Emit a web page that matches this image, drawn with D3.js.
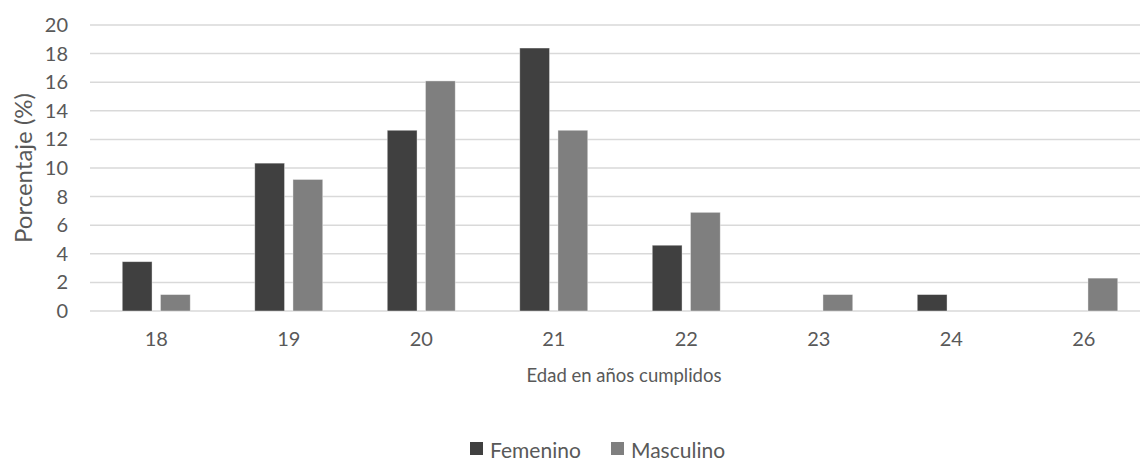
<!DOCTYPE html>
<html>
<head>
<meta charset="utf-8">
<script src="https://cdn.jsdelivr.net/npm/d3@7"></script>
<style>
  html, body { margin: 0; padding: 0; background: #fff; }
  svg { display: block; font-family: Lato, "Open Sans", sans-serif; }
</style>
</head>
<body>
<svg id="chart" width="1140" height="463"></svg>
<script>
// Age groups (years completed) and share of respondents by sex
const ages = ["18", "19", "20", "21", "22", "23", "24", "26"];
const femenino = [3.45, 10.34, 12.64, 18.39, 4.60, 0, 1.15, 0];
const masculino = [1.15, 9.20, 16.09, 12.64, 6.90, 1.15, 0, 2.30];
const seriesNames = ["Femenino", "Masculino"];
const seriesColors = ["#404040", "#7f7f7f"];
const yTicks = [0, 2, 4, 6, 8, 10, 12, 14, 16, 18, 20];

const svg = d3.select("#chart");
const plot = { left: 90, right: 1150, top: 25, bottom: 311 };

const x = d3.scaleBand().domain(ages).range([plot.left, plot.right]).paddingInner(0).paddingOuter(0);
const y = d3.scaleLinear().domain([0, 20]).range([plot.bottom, plot.top]);
const inner = d3.scaleBand().domain(seriesNames).range([x.bandwidth() / 2 - 34, x.bandwidth() / 2 + 34]).paddingInner(0.22);

// Horizontal gridlines
svg.append("g")
  .selectAll("line")
  .data(yTicks)
  .join("line")
  .attr("x1", plot.left).attr("x2", plot.right)
  .attr("y1", d => y(d)).attr("y2", d => y(d))
  .attr("stroke", "#d9d9d9").attr("stroke-width", 1.5);

// Y axis labels
const yAxis = d3.axisLeft(y).tickValues(yTicks).tickSize(0).tickPadding(0);
svg.append("g")
  .attr("transform", `translate(${plot.left - 22},0)`)
  .call(yAxis)
  .call(g => g.select(".domain").remove())
  .call(g => g.selectAll("text")
    .attr("fill", "#595959").attr("font-size", 20).attr("font-family", "Lato, sans-serif"));

// X axis labels
const xAxis = d3.axisBottom(x).tickSize(0).tickPadding(0);
svg.append("g")
  .attr("transform", `translate(0,${plot.bottom + 21})`)
  .call(xAxis)
  .call(g => g.select(".domain").remove())
  .call(g => g.selectAll("text")
    .attr("fill", "#595959").attr("font-size", 20).attr("font-family", "Lato, sans-serif"));

// Bars
const rows = ages.map((a, i) => ({ age: a, values: [femenino[i], masculino[i]] }));
const groups = svg.append("g")
  .selectAll("g")
  .data(rows)
  .join("g")
  .attr("transform", d => `translate(${x(d.age)},0)`);

groups.selectAll("rect")
  .data(d => d.values.map((v, j) => ({ name: seriesNames[j], value: v, color: seriesColors[j] })))
  .join("rect")
  .filter(d => d.value > 0)
  .attr("x", d => inner(d.name))
  .attr("width", inner.bandwidth())
  .attr("y", d => y(d.value))
  .attr("height", d => y(0) - y(d.value))
  .attr("fill", d => d.color)
  .attr("stroke", "#ffffff").attr("stroke-opacity", 0.5).attr("stroke-width", 0.8);

// Axis titles
svg.append("text")
  .attr("transform", `translate(22,${(plot.top + plot.bottom) / 2}) rotate(-90)`)
  .attr("text-anchor", "middle").attr("dominant-baseline", "central")
  .attr("fill", "#595959").attr("font-size", 24)
  .text("Porcentaje (%)");

svg.append("text")
  .attr("x", 624).attr("y", 375)
  .attr("text-anchor", "middle").attr("dominant-baseline", "central")
  .attr("fill", "#595959").attr("font-size", 18.5)
  .text("Edad en años cumplidos");

// Legend
const legendX = [470, 611];
const legend = svg.append("g")
  .selectAll("g")
  .data(seriesNames)
  .join("g")
  .attr("transform", (d, i) => `translate(${legendX[i]},442)`);
legend.append("rect")
  .attr("width", 13).attr("height", 13)
  .attr("fill", (d, i) => seriesColors[i]);
legend.append("text")
  .attr("x", 20).attr("y", 7)
  .attr("dominant-baseline", "central")
  .attr("fill", "#595959").attr("font-size", 21)
  .text(d => d);
</script>
</body>
</html>
